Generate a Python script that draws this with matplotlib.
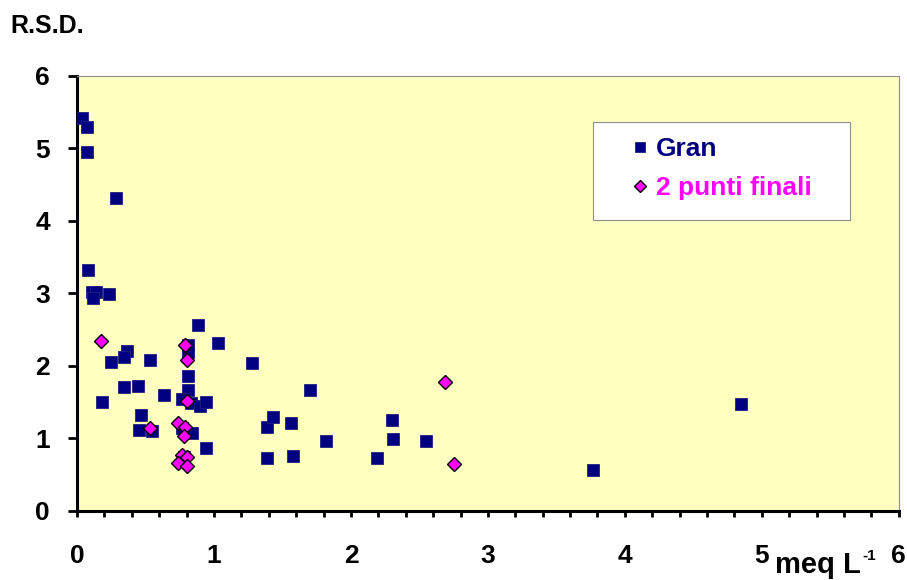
import matplotlib
matplotlib.use("Agg")
import matplotlib.pyplot as plt
from matplotlib.patches import Rectangle
from matplotlib.ticker import MultipleLocator

plt.rcParams["font.family"] = ["Liberation Sans", "DejaVu Sans"]

# Gran method (meq/L, RSD)
gran_x = [0.04, 0.07, 0.07, 0.285, 0.08, 0.11, 0.14, 0.12, 0.23,
          0.88, 0.81, 0.81, 1.03, 0.365, 0.34, 0.25, 0.53, 1.28,
          0.81, 0.34, 0.445, 0.635, 0.81, 0.77, 0.83, 0.90, 0.94, 0.18,
          0.47, 0.45, 0.55, 0.77, 0.84, 0.94, 1.39, 1.43, 1.56, 1.39,
          1.58, 1.70, 1.82, 2.30, 2.31, 2.55, 2.19, 3.77, 4.85, 0.78]
gran_y = [5.42, 5.30, 4.95, 4.32, 3.32, 3.02, 3.02, 2.94, 2.99,
          2.57, 2.29, 2.19, 2.32, 2.21, 2.12, 2.06, 2.08, 2.04,
          1.86, 1.71, 1.73, 1.60, 1.67, 1.55, 1.49, 1.45, 1.50, 1.50,
          1.32, 1.12, 1.10, 1.14, 1.07, 0.87, 1.16, 1.30, 1.21, 0.73,
          0.76, 1.67, 0.97, 1.26, 0.99, 0.97, 0.73, 0.57, 1.48, 0.75]

# two end points method
punti_x = [0.175, 0.79, 0.80, 0.80, 0.74, 0.79, 0.78, 0.53,
           0.77, 0.80, 0.74, 0.80, 2.69, 2.75]
punti_y = [2.34, 2.29, 2.08, 1.52, 1.21, 1.16, 1.03, 1.15,
           0.77, 0.75, 0.66, 0.62, 1.78, 0.65]

fig = plt.figure(figsize=(9.07, 5.80), dpi=100)
ax = fig.add_axes([0.0849, 0.119, 0.9061, 0.750])
ax.set_facecolor("#FFFFC0")

ax.plot(gran_x, gran_y, "s", color="#000080", markersize=8.8,
        markeredgewidth=0.6, markeredgecolor="#202080",
        linestyle="none", label="Gran", zorder=3)
ax.plot(punti_x, punti_y, "D", markerfacecolor="#FF00FF",
        markeredgecolor="black", markersize=7.6, markeredgewidth=1.0,
        linestyle="none", label="2 punti finali", zorder=4)

ax.set_xlim(0, 6)
ax.set_ylim(0, 6)
ax.xaxis.set_major_locator(MultipleLocator(1))
ax.xaxis.set_minor_locator(MultipleLocator(0.2))
ax.yaxis.set_major_locator(MultipleLocator(1))

for s in ["left", "bottom"]:
    ax.spines[s].set_linewidth(2.2)
    ax.spines[s].set_color("black")
for s in ["top", "right"]:
    ax.spines[s].set_linewidth(0.8)
    ax.spines[s].set_color("#909090")

ax.tick_params(axis="x", which="both", direction="out", length=4.5,
               width=2, pad=19, labelsize=19, top=False)
ax.tick_params(axis="y", which="major", direction="out", length=6.5,
               width=2, pad=13, labelsize=19, right=False)
for lbl in ax.get_xticklabels() + ax.get_yticklabels():
    lbl.set_fontweight("bold")

# legend box
fig.patches.append(Rectangle((593 / 907, 1 - 220 / 580), 257 / 907, 98 / 580,
                             transform=fig.transFigure, facecolor="white",
                             edgecolor="#909090", linewidth=0.8, zorder=5))
leg = fig.legend(loc="upper left", bbox_to_anchor=(610 / 907, 1 - 119 / 580),
                 frameon=False, handlelength=0.9, markerscale=0.85,
                 handletextpad=0.15, labelspacing=0.55, borderpad=0.2,
                 prop={"weight": "bold", "size": 19})
leg.set_zorder(6)
for txt, c in zip(leg.get_texts(), ["#000080", "#FF00FF"]):
    txt.set_color(c)

fig.text(10 / 907, 1 - 33 / 580, "R.S.D.", fontsize=18, fontweight="bold",
         ha="left", va="baseline")
fig.text(775 / 907, 1 - 573 / 580, "meq L", fontsize=21,
         fontweight="bold", ha="left", va="baseline")
fig.text(862 / 907, 1 - 560 / 580, "-1", fontsize=11,
         fontweight="bold", ha="left", va="baseline")

fig.savefig("out.png", dpi=100)
